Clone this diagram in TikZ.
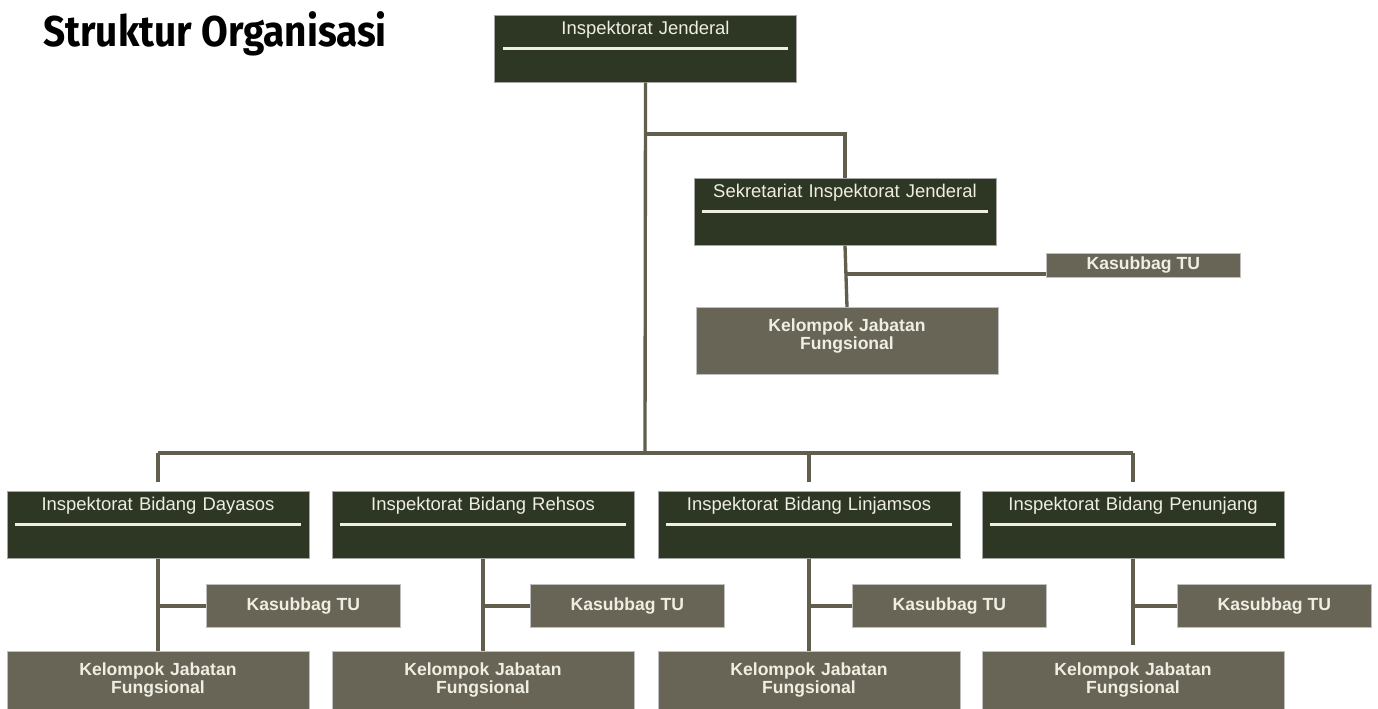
\documentclass[tikz,border=0pt]{standalone}
\usepackage{fontspec}
\setmainfont{Liberation Sans}
\newfontfamily\titlefont[FakeStretch=0.9]{Fira Sans}
\definecolor{headfill}{RGB}{46,54,36}
\definecolor{unitfill}{RGB}{104,100,86}
\definecolor{linkcol}{RGB}{98,94,78}
\definecolor{capcol}{RGB}{238,238,226}
\tikzset{
  head/.style={fill=headfill, draw=black!35, line width=0.4pt, inner sep=0pt,
    minimum width=6.04cm, text width=6.04cm, align=center, text=capcol,
    font=\fontsize{10.5}{12}\selectfont, text height=0.38cm, text depth=0.96cm,
    path picture={\draw[capcol, line width=0.05cm]
      ([xshift=0.16cm,yshift=-0.66cm]path picture bounding box.north west) --
      ([xshift=-0.16cm,yshift=-0.66cm]path picture bounding box.north east);}},
  kasubbag/.style={fill=unitfill, draw=black!25, line width=0.4pt, inner sep=0pt,
    minimum width=3.88cm, minimum height=0.86cm, text=capcol,
    font=\bfseries\fontsize{10}{12}\selectfont},
  kelompok/.style={fill=unitfill, draw=black!25, line width=0.4pt, inner sep=0pt,
    text width=6.04cm, align=center, text=capcol,
    font=\bfseries\fontsize{10}{8.6}\selectfont, text height=0.48cm, text depth=0.86cm},
  link/.style={draw=linkcol, line width=1.9pt}
}
\begin{document}
\begin{tikzpicture}[x=0.02cm, y=-0.02cm]
\useasboundingbox[fill=white] (0,0) rectangle (1378,709);

\node[anchor=base west, font=\titlefont\bfseries\fontsize{24.5}{28}\selectfont] (judul) at (37,47) {Struktur Organisasi};

% pimpinan
\node[head, anchor=north] (ij) at (645.5,15) {Inspektorat Jenderal};
\node[head, anchor=north] (sek) at (845,178) {Sekretariat Inspektorat Jenderal};
\node[kasubbag, anchor=north west, minimum height=0.48cm] (sektu) at (1046,253) {Kasubbag TU};
\node[kelompok, anchor=north] (sekkjf) at (847,307) {Kelompok Jabatan\\Fungsional};

\coordinate (j1) at (645,134);
\coordinate (j2) at (845,274);
\coordinate (bus) at (645,453);

\draw[link] (ij.south) -- (bus);
\draw[link] (j1) -| (sek.north);
\draw[link] (sek.south) -- (sekkjf.north);
\draw[link] (j2) -- (sektu.west |- j2);

% inspektorat bidang
\node[head, anchor=north] (ib1) at (158,491) {Inspektorat Bidang Dayasos};
\node[head, anchor=north] (ib2) at (483,491) {Inspektorat Bidang Rehsos};
\node[head, anchor=north] (ib3) at (809,491) {Inspektorat Bidang Linjamsos};
\node[head, anchor=north] (ib4) at (1133,491) {Inspektorat Bidang Penunjang};

\node[kasubbag, anchor=north west] (tu1) at (206,584) {Kasubbag TU};
\node[kasubbag, anchor=north west] (tu2) at (530,584) {Kasubbag TU};
\node[kasubbag, anchor=north west] (tu3) at (852,584) {Kasubbag TU};
\node[kasubbag, anchor=north west] (tu4) at (1177,584) {Kasubbag TU};

\node[kelompok, anchor=north] (kjf1) at (158,651) {Kelompok Jabatan\\Fungsional};
\node[kelompok, anchor=north] (kjf2) at (483,651) {Kelompok Jabatan\\Fungsional};
\node[kelompok, anchor=north] (kjf3) at (809,651) {Kelompok Jabatan\\Fungsional};
\node[kelompok, anchor=north] (kjf4) at (1133,651) {Kelompok Jabatan\\Fungsional};

\draw[link] (ib1.north |- bus) -- (ib4.north |- bus);
\draw[link, shorten >=0.18cm] (ib1.north |- bus) -- (ib1.north);
\draw[link, shorten >=0.18cm] (ib3.north |- bus) -- (ib3.north);
\draw[link, shorten >=0.18cm] (ib4.north |- bus) -- (ib4.north);

\foreach \i in {1,2,3} {
  \draw[link] (ib\i.south) -- (kjf\i.north);
}
\draw[link, shorten >=0.12cm] (ib4.south) -- (kjf4.north);
\foreach \i in {1,...,4} {
  \draw[link] (ib\i.south |- tu\i.west) -- (tu\i.west);
}
\end{tikzpicture}
\end{document}
